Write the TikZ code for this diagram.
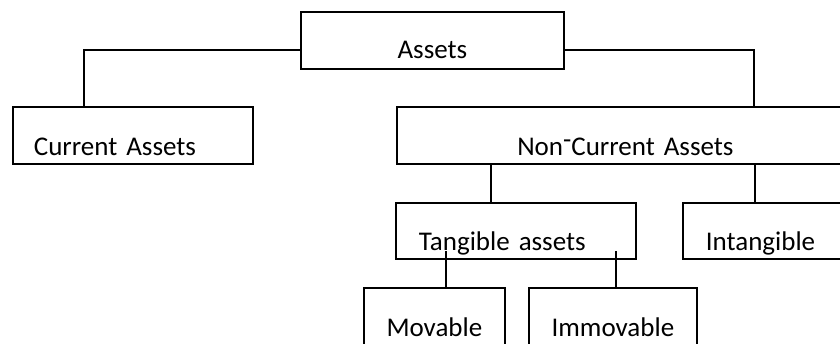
\documentclass[tikz,border=0pt]{standalone}
\usepackage{fontspec}
\setmainfont{Carlito}
\usetikzlibrary{positioning}
\tikzset{
  box/.style={draw, rectangle, anchor=north west, inner ysep=0pt,
    font=\fontsize{27}{30}\selectfont},
  boxleft/.style={box, align=left},
  boxmid/.style={box, align=center, inner xsep=0pt},
}
\begin{document}
\begin{tikzpicture}[x=1pt,y=-1pt,line width=1.8pt]
  \useasboundingbox (0,0) rectangle (840,343);
  \clip (0,0) rectangle (840,343);
  % top box:
  \node[boxmid, text width=263pt, text height=47pt, text depth=10pt]
    (assets) at (300,11) {Assets};
  % second row:
  \node[boxleft, inner xsep=21pt, text width=198pt, text height=49pt, text depth=8pt]
    (current) at (12,106) {Current Assets};
  \node[boxmid, text width=457pt, text height=49pt, text depth=8pt]
    (noncur) at (396,106) {Non\raisebox{7pt}{-}Current Assets};
  % third row:
  \node[boxleft, inner xsep=23pt, text width=194pt, text height=48pt, text depth=8pt]
    (tangible) at (395,202) {Tangible assets};
  \node[boxleft, inner xsep=23pt, text width=124pt, text height=48pt, text depth=8pt]
    (intangible) at (682,202) {Intangible};
  % bottom row:
  \node[boxmid, text width=141pt, text height=49pt, text depth=21pt]
    (movable) at (363,287) {Movable};
  \node[boxmid, text width=168pt, text height=49pt, text depth=21pt]
    (immovable) at (528,287) {Immovable};
  % links from the top box:
  \draw ([yshift=-9.5pt]assets.west) -| ([xshift=72pt]current.north west);
  \draw ([yshift=-9.5pt]assets.east) -| ([xshift=358pt]noncur.north west);
  % links below non-current assets:
  \coordinate (t1) at ([xshift=96pt]tangible.north west);
  \coordinate (t2) at ([xshift=73pt]intangible.north west);
  \draw (t1) -- (t1 |- noncur.south);
  \draw (t2) -- (t2 |- noncur.south);
  % links below tangible assets:
  \coordinate (m1) at ([xshift=83pt]movable.north west);
  \coordinate (m2) at ([xshift=88pt]immovable.north west);
  \draw (m1) -- ++(0,-36);
  \draw (m2) -- ++(0,-36);
\end{tikzpicture}
\end{document}
